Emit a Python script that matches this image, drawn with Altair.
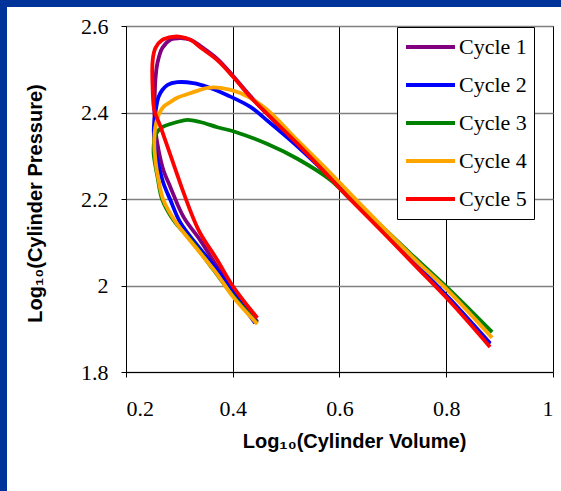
import altair as alt
import pandas as pd

cycles = ["Cycle 1", "Cycle 2", "Cycle 3", "Cycle 4", "Cycle 5"]
colors = ["#800080", "#0000FF", "#008000", "#FFA500", "#FF0000"]

c1_vol = [0.446, 0.401, 0.371, 0.339, 0.308, 0.283, 0.270, 0.261, 0.255, 0.253, 0.254, 0.255, 0.259, 0.268,
          0.283, 0.302, 0.321, 0.339, 0.371, 0.401, 0.433, 0.457, 0.521, 0.583, 0.615, 0.682, 0.745, 0.807, 0.882]
c1_pres = [1.916, 1.990, 2.043, 2.105, 2.158, 2.228, 2.267, 2.313, 2.360, 2.406, 2.445, 2.475, 2.515, 2.549,
           2.568, 2.572, 2.568, 2.554, 2.524, 2.484, 2.438, 2.406, 2.328, 2.250, 2.209, 2.127, 2.047, 1.968, 1.867]

c2_vol = [0.442, 0.401, 0.371, 0.336, 0.302, 0.283, 0.270, 0.261, 0.255, 0.252, 0.255, 0.261, 0.268, 0.278,
          0.296, 0.326, 0.353, 0.390, 0.433, 0.463, 0.521, 0.583, 0.616, 0.682, 0.745, 0.807, 0.882]
c2_pres = [1.913, 1.983, 2.036, 2.089, 2.145, 2.198, 2.237, 2.279, 2.313, 2.360, 2.399, 2.436, 2.452, 2.464,
           2.470, 2.468, 2.459, 2.440, 2.413, 2.383, 2.322, 2.250, 2.210, 2.128, 2.047, 1.968, 1.865]

c3_vol = [0.446, 0.401, 0.364, 0.326, 0.289, 0.268, 0.259, 0.252, 0.252, 0.255, 0.268, 0.296, 0.315, 0.339,
          0.371, 0.405, 0.465, 0.521, 0.583, 0.620, 0.676, 0.732, 0.802, 0.886]
c3_pres = [1.913, 1.976, 2.036, 2.098, 2.151, 2.198, 2.251, 2.302, 2.325, 2.348, 2.366, 2.378, 2.383, 2.378,
           2.366, 2.355, 2.327, 2.293, 2.244, 2.200, 2.140, 2.075, 1.995, 1.892]

c4_vol = [0.446, 0.401, 0.368, 0.330, 0.293, 0.270, 0.261, 0.255, 0.253, 0.255, 0.261, 0.270, 0.283, 0.296,
          0.326, 0.353, 0.377, 0.414, 0.461, 0.521, 0.583, 0.639, 0.745, 0.802, 0.886]
c4_pres = [1.911, 1.973, 2.031, 2.089, 2.147, 2.198, 2.244, 2.290, 2.336, 2.366, 2.394, 2.413, 2.424, 2.434,
           2.447, 2.457, 2.457, 2.445, 2.410, 2.336, 2.260, 2.188, 2.056, 1.990, 1.879]

c5_vol = [0.446, 0.401, 0.371, 0.336, 0.308, 0.293, 0.280, 0.265, 0.253, 0.250, 0.250, 0.255, 0.268, 0.287,
          0.302, 0.321, 0.339, 0.371, 0.401, 0.433, 0.457, 0.521, 0.583, 0.615, 0.682, 0.745, 0.807, 0.882]
c5_pres = [1.925, 1.997, 2.059, 2.128, 2.214, 2.267, 2.313, 2.366, 2.406, 2.452, 2.521, 2.549, 2.568, 2.575,
           2.575, 2.568, 2.551, 2.521, 2.482, 2.436, 2.406, 2.328, 2.248, 2.206, 2.122, 2.042, 1.963, 1.858]

x_ticks = [0.2, 0.4, 0.6, 0.8, 1.0]
y_ticks = [1.8, 2.0, 2.2, 2.4, 2.6]

rows = []
for name, vs, ps in zip(cycles, [c1_vol, c2_vol, c3_vol, c4_vol, c5_vol],
                        [c1_pres, c2_pres, c3_pres, c4_pres, c5_pres]):
    for i, (v, p) in enumerate(zip(vs, ps)):
        rows.append({"cycle": name, "vol": v, "pres": p, "i": i})
df = pd.DataFrame(rows)

W, H = 427, 346
PL, PT = 126, 26
BLUE = "#003399"

lines = alt.Chart(df).mark_line(strokeWidth=3.8, clip=True, interpolate="catmull-rom").encode(
    x=alt.X("vol:Q", scale=alt.Scale(domain=[0.2, 1.0], nice=False, zero=False),
            axis=alt.Axis(values=x_ticks, format="~g", title="Log₁₀(Cylinder Volume)",
                          grid=True, gridColor="#000000", gridWidth=1,
                          titleX=228, titleY=75, titleBaseline="alphabetic", titleAlign="center",
                          labelBaseline="alphabetic", labelPadding=38)),
    y=alt.Y("pres:Q", scale=alt.Scale(domain=[1.8, 2.6], nice=False, zero=False),
            axis=alt.Axis(values=y_ticks, format="~g", title="Log₁₀(Cylinder Pressure)",
                          grid=True, gridColor="#808080", gridWidth=1.3,
                          titleX=-85, titleY=177, titleBaseline="alphabetic", titleAlign="center",
                          titleAngle=270, labelBaseline="middle", labelPadding=13)),
    color=alt.Color("cycle:N", scale=alt.Scale(domain=cycles, range=colors),
                    legend=alt.Legend(title=None, orient="none", legendX=271, legendY=1,
                                      symbolType="stroke", symbolSize=2401, symbolStrokeWidth=4,
                                      clipHeight=26, rowPadding=12, padding=7, labelOffset=2,
                                      fillColor="#FFFFFF", strokeColor="#000000",
                                      labelFont="Liberation Serif", labelFontSize=22,
                                      labelColor="#000000")),
    order="i:Q",
)

one = alt.Data(values=[{"a": 1}])
left_strip = alt.Chart(one).mark_rect(color=BLUE).encode(
    x=alt.value(-PL), x2=alt.value(-PL + 7), y=alt.value(-PT), y2=alt.value(491 - PT))
top_strip = alt.Chart(one).mark_rect(color=BLUE).encode(
    x=alt.value(-PL), x2=alt.value(561 - PL), y=alt.value(-PT), y2=alt.value(-PT + 7))

chart = alt.layer(lines, left_strip, top_strip).properties(
    width=W, height=H,
    autosize=alt.AutoSizeParams(type="none"),
    padding={"left": PL, "top": PT, "right": 561 - PL - W, "bottom": 491 - PT - H},
    background="#FFFFFF",
).configure_view(stroke="#000000", strokeWidth=1).configure_axis(
    labelFont="Liberation Serif", labelFontSize=22, labelColor="#000000",
    titleFont="Liberation Sans", titleFontSize=20, titleFontWeight="bold", titleColor="#000000",
    domainColor="#000000", tickColor="#000000", tickSize=5, domainWidth=1,
)

chart.save("out.html", embed_options={"renderer": "svg", "actions": False})
